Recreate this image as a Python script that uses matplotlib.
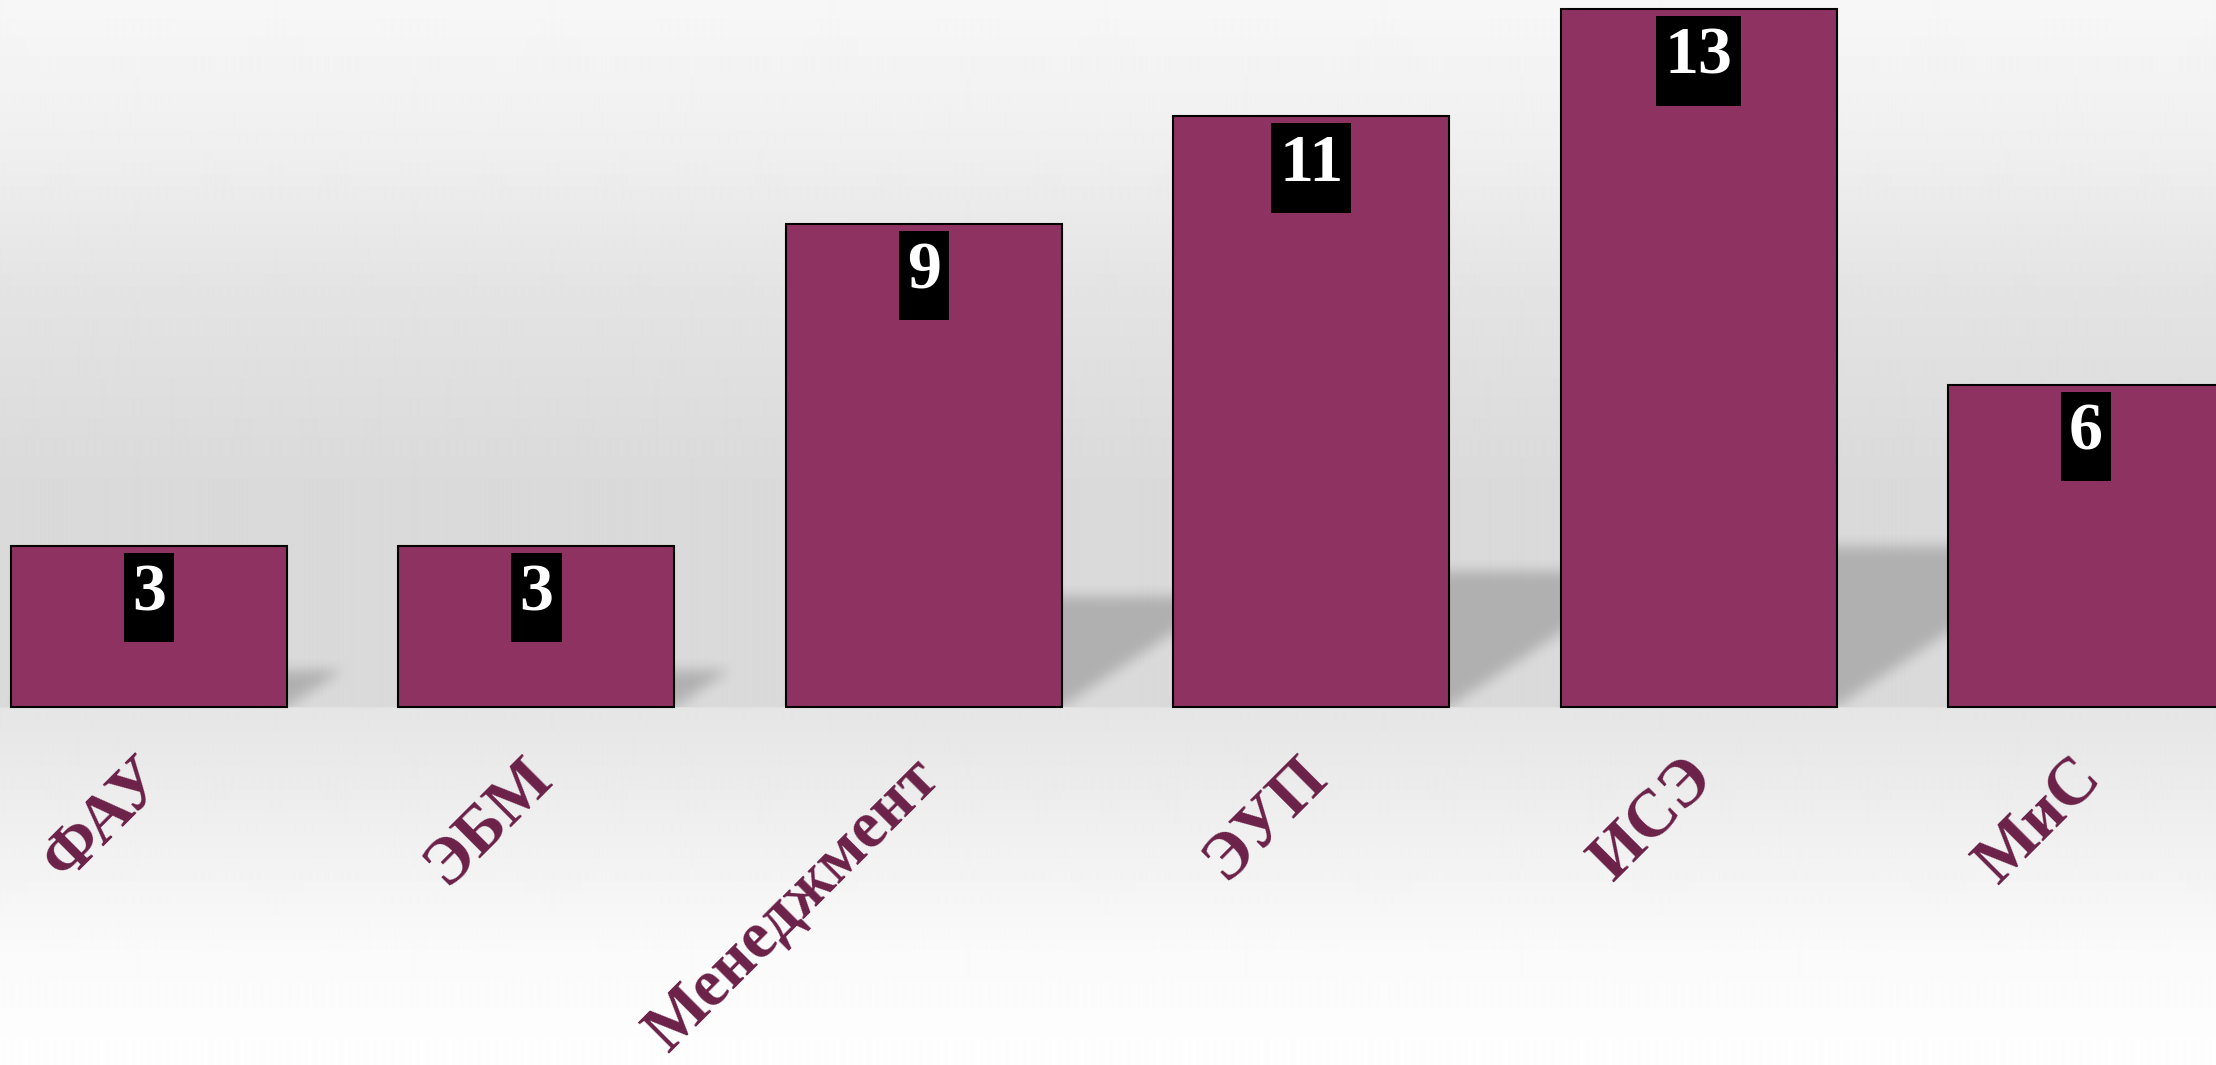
"""Bar chart: count by department, with soft drop shadows on a gray gradient."""
import numpy as np
import matplotlib
matplotlib.use("Agg")
import matplotlib.pyplot as plt
from matplotlib.path import Path

# ---- data ----
names = ["ФАУ", "ЭБМ", "Менеджмент", "ЭУП", "ИСЭ", "МиС"]
values = [3, 3, 9, 11, 13, 6]

# ---- style ----
BAR = "#8e3262"
LABEL = "#6b2148"
SERIF = ["Liberation Serif", "DejaVu Serif"]
W, H, DPI = 2216, 1065, 100
BAR_W = 0.7125
XLIM = (-0.3846, 5.3356)
YLIM = (-6.67, 13.17)

fig = plt.figure(figsize=(W / DPI, H / DPI), dpi=DPI)
ax = fig.add_axes([0, 0, 1, 1])
ax.set_xlim(*XLIM); ax.set_ylim(*YLIM)
ax.axis("off")

# background: vertical gray gradient (pixel rows from top)
rows = np.arange(H)
stops_y = [0, 150, 300, 480, 706, 708, 800, 950, 1065]
stops_v = [247, 239, 227, 218, 218, 229, 237, 250, 254]
g = np.interp(rows, stops_y, stops_v) / 255.0
bg = np.repeat(g[:, None], 8, axis=1)
ax.imshow(bg, cmap="gray", vmin=0, vmax=1, extent=[*XLIM, *YLIM],
          aspect="auto", interpolation="bilinear", zorder=0)

# soft shadows: squashed, sheared copy of each bar, blurred
xs = np.linspace(*XLIM, W)
ys = np.linspace(YLIM[1], YLIM[0], H)
X, Y = np.meshgrid(xs, ys)
mask = np.zeros((H, W))
for i, v in enumerate(values):
    hs, sh = 0.23 * v, 0.0478 * v
    t = np.clip(Y / hs, 0, 1)
    inside = (Y >= 0) & (Y <= hs) & (X >= i - BAR_W / 2 + sh * t) & (X <= i + BAR_W / 2 + sh * t)
    mask[inside] = 1.0


def box_blur(a, r, axis):
    k = np.ones(2 * r + 1) / (2 * r + 1)
    return np.apply_along_axis(lambda m: np.convolve(m, k, mode="same"), axis, a)


for _ in range(2):
    mask = box_blur(mask, 7, 0)
    mask = box_blur(mask, 7, 1)
mask[Y < 0] = 0
shadow = np.zeros((H, W, 4))
shadow[..., 3] = 0.19 * mask
ax.imshow(shadow, extent=[*XLIM, *YLIM], aspect="auto", zorder=1)

x = np.arange(len(values))
ax.bar(x, values, width=BAR_W, color=BAR, edgecolor="black", linewidth=1.5, zorder=2)


def tall_box(x0, y0, width, height, mutation_size):
    # black label box: a little more room below the digits than above
    px, pt, pb = 0.12 * mutation_size, 0.15 * mutation_size, 0.27 * mutation_size
    l, r, b, t = x0 - px, x0 + width + px, y0 - pb, y0 + height + pt
    return Path([(l, b), (r, b), (r, t), (l, t), (l, b)], closed=True)


for i, v in enumerate(values):
    ax.text(i, v - 0.32, str(v), ha="center", va="top", fontsize=49,
            fontweight="bold", family=SERIF, color="white", zorder=3,
            bbox=dict(boxstyle=tall_box, fc="black", ec="none"))
    ax.text(i - 0.04, -0.74, names[i], rotation=45, rotation_mode="anchor",
            ha="right", va="top", fontsize=48, fontweight="bold",
            family=SERIF, color=LABEL, zorder=3)

fig.savefig("out.png", dpi=DPI)
